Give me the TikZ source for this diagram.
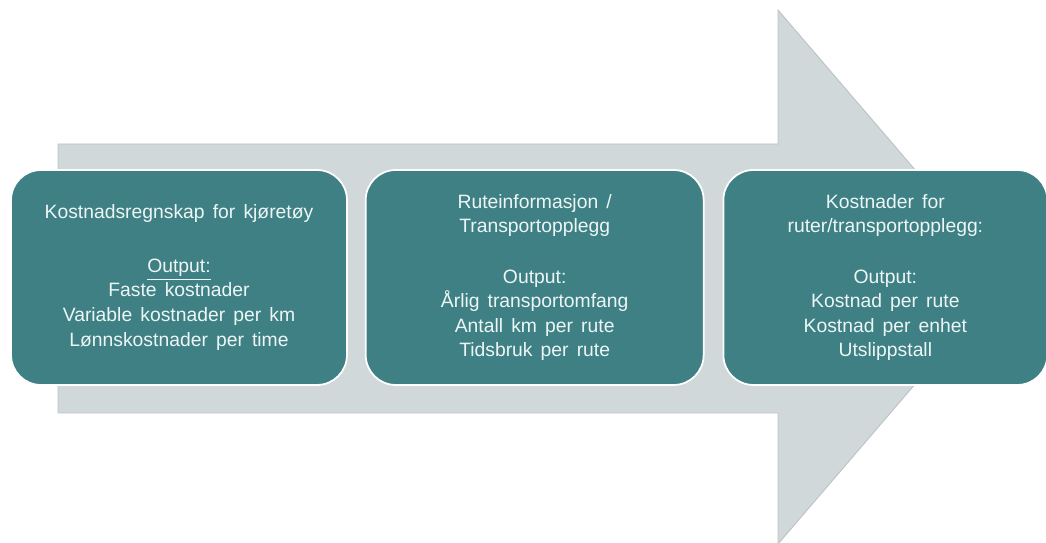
\documentclass[tikz,border=0pt]{standalone}
\usepackage{fontspec}
\setmainfont{Liberation Sans}
\definecolor{StageTeal}{RGB}{63, 128, 132}
\definecolor{ArrowGray}{RGB}{208, 216, 218}
\definecolor{ArrowEdge}{RGB}{186, 194, 196}
\definecolor{TextWhite}{RGB}{236, 246, 246}
\newcommand{\stagefont}{\fontsize{11}{14}\selectfont\spaceskip=0.42em plus 0.1em\relax}
\usetikzlibrary{positioning}

\begin{document}
\begin{tikzpicture}[x=0.02cm, y=-0.02cm,
            stage/.style={rectangle, rounded corners=0.6cm, fill=StageTeal, draw=white, line width=1pt, minimum height=4.3cm, align=center, text=TextWhite, font=\stagefont},
        ]
            \useasboundingbox (0,0) rectangle (1046,543);
            \filldraw[fill=ArrowGray, draw=ArrowEdge, line width=0.5pt] (58,144) -- (778,144) -- (778,10) -- (1007,277) -- (778,544) -- (778,413) -- (58,413) -- cycle;
            \node[stage, minimum width=6.72cm] (costing) at (179,277.5) {Kostnadsregnskap for kjøretøy\\[0.58cm]\underline{Output:}\\Faste kostnader\\Variable kostnader per km\\Lønnskostnader per time};
            \node[stage, minimum width=6.76cm, right=0.34cm of costing] (routes) {Ruteinformasjon /\\Transportopplegg\\[0.52cm]Output:\\Årlig transportomfang\\Antall km per rute\\Tidsbruk per rute};
            \node[stage, minimum width=6.48cm, right=0.36cm of routes] (results) {Kostnader for\\ruter/transportopplegg:\\[0.52cm]Output:\\Kostnad per rute\\Kostnad per enhet\\Utslippstall};
        \end{tikzpicture}
\end{document}
